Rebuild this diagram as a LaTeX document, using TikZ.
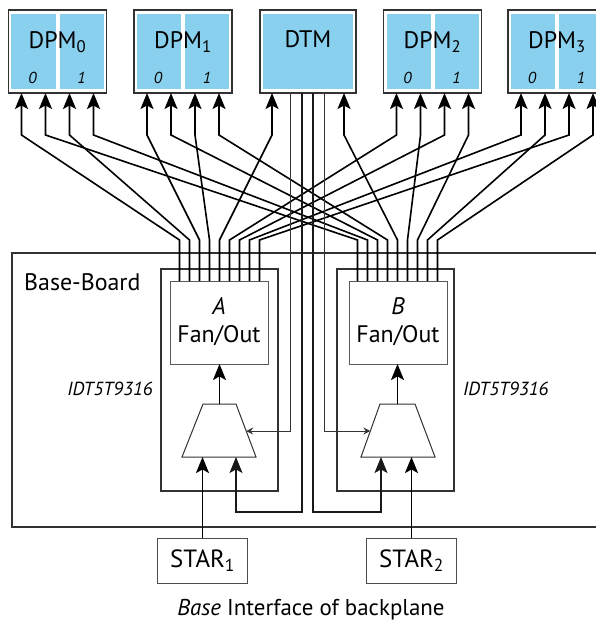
\documentclass[tikz,border=0pt]{standalone}
\usepackage{fontspec}
\setmainfont{PT Sans}
\usetikzlibrary{arrows.meta,calc}
\definecolor{dpmblue}{RGB}{137,207,238}
\definecolor{edgegray}{RGB}{50,50,50}
\newcommand{\fsz}[1]{\fontsize{#1}{#1}\selectfont}
\tikzset{
 conn/.style={line width=1.6bp, -{Stealth[length=16bp,width=13bp,inset=3.5bp]}},
 sideconn/.style={line width=0.9bp, draw=black!80, -{Stealth[length=7bp,width=7bp,inset=2.5bp]}},
 dtmwire/.style={line width=1.2bp, draw=black!90, -{Stealth[length=16bp,width=13bp,inset=3.5bp]}},
 outerbox/.style={draw=edgegray, line width=1.5bp, fill=white, inner sep=0pt, outer sep=0pt},
 idtbox/.style={draw=edgegray, line width=1.5bp, inner sep=0pt, outer sep=0pt},
 fanbox/.style={draw=black!65, line width=1bp, fill=white, inner sep=0pt, outer sep=0pt},
 starbox/.style={draw=black!70, line width=1bp, inner sep=0pt, outer sep=0pt, minimum width=90bp, minimum height=45bp, font=\fsz{25}},
 mux/.style={draw=edgegray, line width=1bp, line join=miter, fill=white},
 lbl/.style={font=\fsz{24}, anchor=base, inner sep=0pt},
 idx/.style={font=\itshape\fsz{16}, anchor=base, inner sep=0pt},
 txt/.style={inner sep=0pt},
}
\begin{document}
\begin{tikzpicture}[x=1bp,y=-1bp]
\clip (0,0) rectangle (596,624);
\fill[white] (0,0) rectangle (596,624);

% ---- DPM boxes
\foreach \n/\c in {0/57.5,1/183,2/432.5,3/557}{
  \node[outerbox, minimum width=98bp, minimum height=83bp] (dpm\n) at (\c,51.5) {};
  \fill[dpmblue] ($(dpm\n.north west)+(3,4)$) rectangle ($(dpm\n.south)+(-2,-4)$);
  \fill[dpmblue] ($(dpm\n.north)+(2,4)$) rectangle ($(dpm\n.south east)+(-3,-4)$);
  \node[lbl] (dpmlbl\n) at ($(dpm\n.center)+(0,-3)$) {DPM\textsubscript{\n}};
  \node[idx] (dpmz\n) at ($(dpm\n.center)+(-25,32)$) {0};
  \node[idx] (dpmo\n) at ($(dpm\n.center)+(24,32)$) {1};
}
\node[outerbox, minimum width=96bp, minimum height=83bp] (dtm) at (308,51.5) {};
\fill[dpmblue] ($(dtm.north west)+(3,4)$) rectangle ($(dtm.south east)+(-3,-4)$);
\node[lbl] (dtmlbl) at ($(dtm.center)+(0,-4)$) {DTM};

% ---- Base board and IDT boxes
\node[idtbox, minimum width=620bp, minimum height=274bp] (board) at (322,390) {};
\node[font=\fsz{24}, anchor=base west, txt] (boardlbl) at (24,290.5) {Base-Board};
\node[idtbox, minimum width=117bp, minimum height=222bp] (idtA) at (219.5,380) {};
\node[idtbox, minimum width=117bp, minimum height=222bp] (idtB) at (395.5,380) {};
\node[font=\itshape\fsz{19}, anchor=base east, txt] (idtlA) at (153,395) {IDT5T9316};
\node[font=\itshape\fsz{19}, anchor=base west, txt] (idtlB) at (463,395) {IDT5T9316};

\node[fanbox, minimum width=98bp, minimum height=83bp] (fanA) at (219,322.5) {};
\node[fanbox, minimum width=98bp, minimum height=83bp] (fanB) at (398,322.5) {};
\node[font=\itshape\fsz{24}, anchor=base, txt] (fanAl1) at (219,314) {A};
\node[font=\fsz{24}, anchor=base, txt] (fanAl2) at (219,342) {Fan/Out};
\node[font=\itshape\fsz{24}, anchor=base, txt] (fanBl1) at (398,314) {B};
\node[font=\fsz{24}, anchor=base, txt] (fanBl2) at (398,342) {Fan/Out};

% ---- helper coordinates
\coordinate (lo) at (0,240);
\coordinate (hi) at (0,135);
\coordinate (bot) at (0,512);

\foreach \i/\b/\o in {1/dpm0/-36, 2/dpm0/12, 3/dpm1/-36, 4/dpm1/12, 5/dtm/-36, 6/dpm2/-36, 7/dpm2/12, 8/dpm3/-36, 9/dpm3/12}{
  \coordinate (tA\i) at ($(\b.south)+(\o,0)$);
}
\foreach \i/\b/\o in {1/dpm0/-12, 2/dpm0/36, 3/dpm1/-12, 4/dpm1/36, 5/dtm/36, 6/dpm2/-12, 7/dpm2/36, 8/dpm3/-12, 9/dpm3/36}{
  \coordinate (tB\i) at ($(\b.south)+(\o,0)$);
}
\foreach \i in {1,...,9}{
  \coordinate (pA\i) at ($(fanA.north west)+({9.5+10*(\i-1)},0)$);
  \coordinate (pB\i) at ($(fanB.north west)+({8.5+10*(\i-1)},0)$);
}

% ---- fan-out wires
\foreach \i in {1,...,9}{
  \draw[conn] (pA\i) -- (pA\i |- lo) -- (tA\i |- hi) -- (tA\i);
  \draw[conn] (pB\i) -- (pB\i |- lo) -- (tB\i |- hi) -- (tB\i);
}

% ---- muxes
\coordinate (mAtl) at (203,404);
\coordinate (mAtr) at (236,404);
\coordinate (mAbr) at (256,457);
\coordinate (mAbl) at (182,457);
\draw[mux] (mAtl) -- (mAtr) -- (mAbr) -- (mAbl) -- cycle;
\coordinate (mAout) at ($(mAtl)!0.5!(mAtr)$);
\coordinate (mAside) at ($(mAtr)!0.51!(mAbr)$);
\coordinate (mAin1) at (202.5,457);
\coordinate (mAin2) at (236,457);

\coordinate (mBtl) at (380,404);
\coordinate (mBtr) at (415,404);
\coordinate (mBbr) at (435,457);
\coordinate (mBbl) at (361,457);
\draw[mux] (mBtl) -- (mBtr) -- (mBbr) -- (mBbl) -- cycle;
\coordinate (mBout) at ($(mBtl)!0.5!(mBtr)$);
\coordinate (mBside) at ($(mBtl)!0.51!(mBbl)$);
\coordinate (mBin1) at (381,457);
\coordinate (mBin2) at (411.5,457);

\draw[conn] (mAout) -- (mAout |- fanA.south);
\draw[conn] (mBout) -- (mBout |- fanB.south);

% ---- DTM lines
\coordinate (d1) at ($(dtm.south)+(-18,0)$);
\coordinate (d2) at ($(dtm.south)+(-6,0)$);
\coordinate (d3) at ($(dtm.south)+(5,0)$);
\coordinate (d4) at ($(dtm.south)+(16,0)$);
\draw[sideconn] (d1) -- (d1 |- mAside) -- (mAside);
\draw[sideconn] (d4) -- (d4 |- mBside) -- (mBside);
\draw[dtmwire] (d2) -- (d2 |- bot) -- (mAin2 |- bot) -- (mAin2);
\draw[dtmwire] (d3) -- (d3 |- bot) -- (mBin1 |- bot) -- (mBin1);

% ---- STAR inputs
\node[starbox] (star1) at (202.5,560.5) {STAR\textsubscript{1}};
\node[starbox] (star2) at (411.5,560.5) {STAR\textsubscript{2}};
\draw[conn] (star1.north) -- (mAin1);
\draw[conn] (star2.north) -- (mBin2);

% ---- caption
\node[font=\fsz{23}, anchor=base, txt] (caption) at (311,615) {\textit{Base} Interface of backplane};
\end{tikzpicture}
\end{document}
